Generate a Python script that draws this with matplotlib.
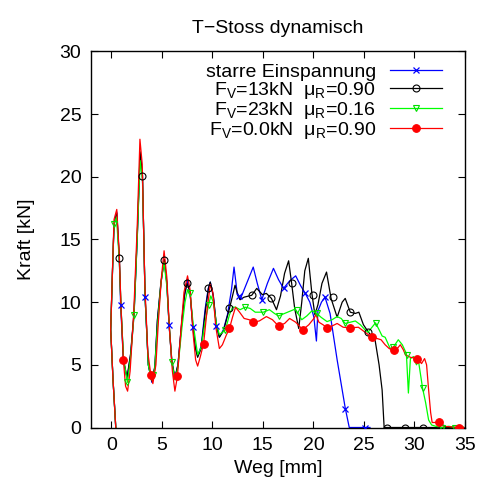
import matplotlib
matplotlib.use('Agg')
import matplotlib.pyplot as plt
from matplotlib.lines import Line2D

plt.rcParams['font.family'] = ['Liberation Sans', 'DejaVu Sans']
plt.rcParams['mathtext.fontset'] = 'custom'
plt.rcParams['mathtext.rm'] = 'Liberation Sans'
plt.rcParams['mathtext.it'] = 'Liberation Sans:italic'
plt.rcParams['mathtext.bf'] = 'Liberation Sans:bold'
plt.rcParams['font.size'] = 14

# ---------------- data (Weg [mm], Kraft [kN]) ----------------
title = 'T\u2212Stoss dynamisch'
xlabel = 'Weg [mm]'
ylabel = 'Kraft [kN]'
xticks = [0, 5, 10, 15, 20, 25, 30, 35]
yticks = [0, 5, 10, 15, 20, 25, 30]

labels = ['starre Einspannung',
          'F$_\\mathregular{V}$=13kN  μ$_\\mathregular{R}$=0.90',
          'F$_\\mathregular{V}$=23kN  μ$_\\mathregular{R}$=0.16',
          'F$_\\mathregular{V}$=0.0kN  μ$_\\mathregular{R}$=0.90']

# starre Einspannung (blue)
blue_x = [0.45, 0.18, -0.05, 0.15, 0.28, 0.55, 0.8, 0.93, 1.2, 1.57, 1.92, 2.26, 2.57, 2.86, 3.09,
          3.35, 3.67, 4.02, 4.32, 4.57, 4.92, 5.23, 5.5, 5.72, 6.0, 6.3, 6.6, 7.0, 7.25, 7.55,
          7.8, 8.08, 8.3, 8.55, 8.9, 9.3, 9.6, 9.8, 10.1, 10.4, 10.7, 11.1, 11.5, 11.9, 12.15,
          12.45, 12.75, 13.15, 13.65, 14.05, 14.45, 14.9, 15.45, 16.05, 16.55, 17.05, 17.65, 18.25,
          18.75, 19.2, 19.65, 20.05, 20.3, 20.45, 20.8, 21.15, 21.65, 22.35, 23.15, 23.55, 25.1, 25.6]
blue_y = [0.0, 3.8, 7.8, 13.1, 16.2, 17.2, 13.5, 9.8, 5.4, 3.9, 5.8, 9.0, 15.0, 21.8, 20.1,
          10.4, 5.0, 3.6, 4.8, 8.5, 11.5, 13.4, 11.5, 8.2, 5.2, 3.9, 5.0, 8.5, 10.5, 11.8,
          10.7, 8.0, 6.5, 5.7, 6.5, 9.5, 11.1, 11.6, 10.5, 8.1, 7.2, 7.8, 9.0, 11.0, 12.8,
          10.8, 10.2, 11.0, 12.0, 12.8, 11.5, 10.2, 11.5, 12.7, 11.8, 11.1, 11.7, 12.1,
          11.3, 10.7, 10.0, 8.8, 6.9, 9.3, 10.0, 10.4, 9.1, 5.4, 1.56, 0.0, 0.0, 0.0]
blue_mx = [0.93, 3.35, 5.72, 8.08, 10.4, 12.6, 14.9, 17.05, 19.2, 21.15, 23.15, 25.1]
blue_my = [9.8, 10.4, 8.2, 8.0, 8.1, 10.5, 10.2, 11.1, 10.7, 10.4, 1.5, 0.0]

# F_V=13kN mu_R=0.90 (black)
black_x = [0.45, 0.18, -0.05, 0.15, 0.28, 0.55, 0.8, 0.97, 1.22, 1.57, 1.92, 2.26, 2.57, 2.86, 3.09,
           3.35, 3.67, 4.02, 4.32, 4.57, 4.92, 5.26, 5.5, 5.72, 6.0, 6.3, 6.6, 7.0, 7.25, 7.5,
           7.8, 8.08, 8.3, 8.55, 8.9, 9.3, 9.62, 9.8, 10.1, 10.4, 10.7, 11.1, 11.4, 11.7, 12.0,
           12.25, 12.55, 12.75, 13.15, 13.9, 14.4, 14.95, 15.35, 15.85, 16.35, 16.75, 17.15, 17.55,
           17.85, 18.15, 18.55, 18.85, 19.15, 19.5, 19.85, 20.15, 20.45, 20.85, 21.3, 21.75, 22.35,
           22.85, 23.15, 23.65, 24.15, 24.5, 24.95, 25.45, 26.1, 26.5, 26.8, 27.0, 34.9]
black_y = [0.0, 3.8, 7.8, 13.1, 16.2, 17.1, 13.5, 9.6, 5.3, 4.0, 5.9, 9.2, 15.2, 22.0, 20.1,
           10.4, 5.0, 3.7, 4.9, 8.6, 11.6, 13.4, 11.6, 8.3, 5.3, 4.0, 5.0, 8.6, 10.6, 11.5,
           10.8, 8.1, 6.4, 5.6, 6.3, 9.2, 11.1, 11.6, 10.5, 8.2, 7.2, 7.7, 8.6, 9.5, 10.5,
           11.35, 10.5, 10.2, 10.4, 10.55, 11.1, 10.6, 10.7, 10.3, 9.4, 10.5, 12.3, 13.3,
           11.5, 9.5, 7.9, 10.0, 12.5, 13.5, 10.7, 9.0, 9.8, 11.5, 12.4, 10.3, 8.8,
           10.0, 10.3, 9.2, 9.1, 9.2, 8.2, 7.6, 7.0, 5.0, 3.0, 0.0, 0.0]
black_mx = [0.8, 3.09, 5.26, 7.5, 9.62, 11.7, 13.9, 15.85, 17.85, 19.95, 21.95, 23.65, 25.45,
            27.3, 29.05, 30.85, 32.75]
black_my = [13.5, 20.1, 13.4, 11.5, 11.1, 9.5, 10.55, 10.3, 11.5, 10.6, 10.4, 9.2, 7.6,
            0.0, 0.0, 0.0, 0.0]

# F_V=23kN mu_R=0.16 (green)
green_x = [0.45, 0.18, -0.05, 0.15, 0.28, 0.52, 0.8, 0.97, 1.22, 1.6, 1.92, 2.26, 2.57, 2.86, 3.09,
           3.35, 3.67, 3.98, 4.3, 4.57, 4.92, 5.22, 5.5, 5.75, 6.0, 6.3, 6.6, 7.0, 7.3, 7.55,
           7.8, 8.1, 8.55, 8.9, 9.3, 9.63, 9.85, 10.1, 10.4, 10.7, 11.0, 11.3, 11.7, 12.0, 12.3,
           12.75, 13.25, 13.75, 14.25, 15.05, 15.65, 16.15, 16.55, 17.15, 17.75, 18.2, 18.55,
           18.85, 19.35, 19.85, 20.35, 20.75, 21.35, 21.85, 22.35, 22.75, 23.15, 23.65, 24.15,
           24.65, 25.1, 25.4, 25.8, 26.15, 26.5, 26.8, 27.1, 27.6, 27.9, 28.4, 28.8, 29.2, 29.4,
           29.6, 29.9, 30.2, 30.4, 30.8, 31.1, 31.4, 31.7, 32.1, 32.7, 33.4, 34.0, 34.8]
green_y = [0.0, 3.8, 7.8, 13.1, 16.2, 16.8, 13.3, 9.5, 5.5, 3.6, 5.6, 9.0, 15.0, 21.3, 19.8,
           10.5, 5.0, 3.8, 4.6, 8.0, 11.5, 13.2, 11.3, 8.0, 5.2, 3.8, 4.8, 8.0, 10.0, 11.0,
           10.7, 8.3, 5.8, 6.4, 8.5, 9.76, 10.5, 10.0, 8.3, 7.4, 7.6, 7.8, 9.0, 9.6, 9.6,
           9.4, 9.6, 9.5, 9.2, 9.2, 9.4, 9.1, 8.9, 9.1, 9.3, 9.45, 9.0,
           8.6, 8.9, 9.3, 9.1, 8.8, 8.45, 8.6, 8.85, 8.7, 8.3, 8.4, 8.5,
           8.2, 7.8, 7.6, 8.0, 8.35, 7.8, 7.3, 7.2, 6.3, 6.4, 7.0, 6.6, 5.9, 2.75,
           5.5, 5.66, 5.0, 5.3, 3.15, 2.0, 0.6, 0.2, 0.1, 0.0, 0.1, 0.0, 0.05]
green_mx = [0.28, 1.6, 2.26, 4.18, 6.0, 7.8, 9.63, 11.3, 13.25, 15.05, 16.55, 18.35, 20.35,
            23.15, 26.15, 27.85, 29.3, 30.8, 32.7, 34.0]
green_my = [16.2, 3.6, 9.0, 4.2, 5.2, 10.7, 9.76, 7.8, 9.6, 9.2, 8.9, 9.4, 9.1,
            8.3, 8.35, 6.4, 5.8, 3.15, 0.0, 0.0]

# F_V=0.0kN mu_R=0.90 (red)
red_x = [0.45, 0.18, -0.05, 0.15, 0.28, 0.55, 0.8, 0.97, 1.2, 1.42, 1.62, 1.87, 2.22, 2.57, 2.84,
         3.07, 3.32, 3.62, 3.92, 4.12, 4.42, 4.67, 4.97, 5.23, 5.5, 5.75, 6.05, 6.3, 6.55, 6.9,
         7.2, 7.55, 7.8, 8.1, 8.35, 8.55, 8.8, 9.14, 9.5, 9.8, 10.05, 10.35, 10.7, 11.0, 11.4,
         11.7, 12.0, 12.3, 12.7, 13.15, 13.65, 14.05, 14.65, 15.35, 15.95, 16.55, 17.15, 17.65,
         18.25, 18.95, 19.55, 20.05, 20.25, 20.55, 20.95, 21.35, 21.85, 22.35, 22.95, 23.65,
         24.45, 24.95, 25.45, 25.8, 26.3, 26.7, 27.1, 27.5, 27.95, 28.3, 28.6, 28.9, 29.1, 29.6,
         30.3, 30.7, 30.85, 31.0, 31.2, 31.4, 31.6, 31.75, 32.4, 32.9, 33.6, 34.4, 34.9]
red_y = [0.0, 3.8, 7.8, 13.3, 16.6, 17.4, 13.8, 9.5, 5.4, 3.3, 2.9, 4.5, 9.0, 16.0, 23.0,
         21.0, 11.5, 6.0, 4.2, 3.5, 5.0, 8.5, 12.0, 14.1, 12.0, 8.0, 4.5, 2.9, 4.07, 7.8,
         10.8, 12.1, 11.0, 7.5, 5.4, 4.9, 5.6, 6.7, 9.5, 11.4, 10.8, 8.0, 6.3, 6.6, 7.4,
         7.9, 8.8, 9.6, 9.2, 8.7, 8.6, 8.4, 8.5, 8.85, 8.6, 8.1, 8.3, 8.7,
         8.4, 7.8, 8.2, 8.7, 9.0, 8.4, 8.2, 7.96, 8.1, 8.3, 8.0, 7.95,
         8.0, 7.7, 7.4, 7.25, 7.1, 7.0, 6.6, 6.3, 6.15, 6.3, 6.6, 6.2, 5.8, 5.6,
         5.5, 5.1, 5.3, 5.5, 5.0, 3.0, 1.2, 0.4, 0.4, 0.1, 0.05, 0.0, 0.0]
red_mx = [1.2, 3.92, 6.55, 9.14, 11.7, 14.05, 16.55, 18.95, 21.35, 23.65, 25.8, 27.95, 30.3,
          32.4, 34.4]
red_my = [5.4, 4.2, 4.07, 6.7, 7.9, 8.4, 8.1, 7.8, 7.96, 7.95, 7.25, 6.15, 5.5, 0.4, 0.0]

# ---------------- styles ----------------
styles = [
    dict(color='#0000ff', marker='x', ms=4.5, mfc='#0000ff', mec='#0000ff', mew=0.9),
    dict(color='#000000', marker='o', ms=5.0, mfc='none', mec='#000000', mew=0.8),
    dict(color='#00ff00', marker='v', ms=5.0, mfc='none', mec='#00dd00', mew=0.8),
    dict(color='#ff0000', marker='o', ms=5.5, mfc='#ff0000', mec='#ff0000', mew=0.8),
]
lines_xy = [(blue_x, blue_y), (black_x, black_y), (green_x, green_y), (red_x, red_y)]
marks_xy = [(blue_mx, blue_my), (black_mx, black_my), (green_mx, green_my), (red_mx, red_my)]

fig = plt.figure(figsize=(4.78, 4.86), dpi=100)
ax = fig.add_axes([91 / 478, (486 - 427.5) / 486, 374 / 478, 376 / 486])

handles = []
for (lx, ly), (mx, my), st, lab in zip(lines_xy, marks_xy, styles, labels):
    ax.plot(lx, ly, color=st['color'], lw=0.9, zorder=2)
    ax.plot(mx, my, ls='none', marker=st['marker'], ms=st['ms'], mfc=st['mfc'],
            mec=st['mec'], mew=st['mew'], zorder=3)
    handles.append(Line2D([], [], color=st['color'], lw=0.9, marker=st['marker'], ms=st['ms'],
                          mfc=st['mfc'], mec=st['mec'], mew=st['mew'], label=lab))

ax.set_xlim(-2, 35)
ax.set_ylim(0, 30)
ax.set_xticks(xticks)
ax.set_yticks(yticks)
ax.tick_params(direction='in', top=True, right=True, length=5, width=0.8, labelsize=14, pad=7)
for s in ax.spines.values():
    s.set_linewidth(1.0)

ax.set_title(title, fontsize=14, pad=13)
ax.set_xlabel(xlabel, fontsize=14, labelpad=4)
ax.set_ylabel(ylabel, fontsize=14, labelpad=18)

leg = ax.legend(handles=handles, loc='upper right', bbox_to_anchor=(0.949, 0.98),
                frameon=False, markerfirst=False,
                handlelength=2.7, handletextpad=0.7, labelspacing=-0.05, borderaxespad=0.0,
                borderpad=0.2, fontsize=14, numpoints=1)

fig.savefig('out.png', dpi=100)
